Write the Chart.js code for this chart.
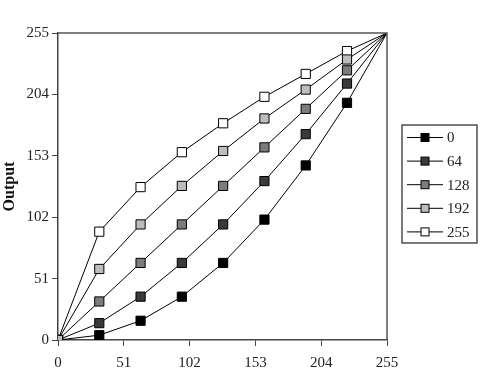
<!DOCTYPE html>
<html>
<head>
<meta charset="utf-8">
<script src="https://cdn.jsdelivr.net/npm/chart.js@4.4.1/dist/chart.umd.min.js"></script>
<style>
  html, body { margin: 0; padding: 0; background: #fff; }
  canvas { display: block; }
</style>
</head>
<body>
<canvas id="grafico" width="492" height="381"></canvas>
<script>
// input levels (x) and output curves, one per legend value
const entradas = [0, 32, 64, 96, 128, 160, 192, 224, 255];
const etiquetas = ['0', '64', '128', '192', '255'];
const salida0   = [0, 4, 16, 36, 64, 100, 145, 197, 255];
const salida64  = [0, 14, 36, 64, 96, 132, 171, 213, 255];
const salida128 = [0, 32, 64, 96, 128, 160, 192, 224, 255];
const salida192 = [0, 59, 96, 128, 157, 184, 208, 233, 255];
const salida255 = [0, 90, 127, 156, 180, 202, 221, 240, 255];
const ticksEje = [0, 51, 102, 153, 204, 255];

const series = [salida0, salida64, salida128, salida192, salida255];
const rellenos = ['#000000', '#3a3a3a', '#7c7c7c', '#bdbdbd', '#ffffff'];
const fuente = "'Liberation Serif', 'Times New Roman', serif";

// top + right frame lines
const marco = {
    id: 'marco',
    afterDraw(chart) {
        const { ctx, chartArea: a } = chart;
        ctx.save();
        ctx.strokeStyle = '#555';
        ctx.lineWidth = 1.5;
        ctx.beginPath();
        ctx.moveTo(a.left, a.top);
        ctx.lineTo(a.right, a.top);
        ctx.lineTo(a.right, a.bottom);
        ctx.stroke();
        ctx.restore();
    }
};

// boxed legend with line + square marker
const leyenda = {
    id: 'leyenda',
    afterDraw(chart) {
        const ctx = chart.ctx;
        const x0 = 402, y0 = 125, w = 75, h = 118;
        ctx.save();
        ctx.strokeStyle = '#222';
        ctx.lineWidth = 1.2;
        ctx.strokeRect(x0, y0, w, h);
        ctx.font = '15px ' + fuente;
        ctx.textBaseline = 'middle';
        chart.data.datasets.forEach((ds, i) => {
            const y = y0 + 12.5 + i * 23.6;
            ctx.strokeStyle = '#000';
            ctx.lineWidth = 1;
            ctx.beginPath();
            ctx.moveTo(407, y);
            ctx.lineTo(443, y);
            ctx.stroke();
            ctx.fillStyle = ds.pointBackgroundColor;
            ctx.fillRect(421, y - 4, 8, 8);
            ctx.strokeRect(421, y - 4, 8, 8);
            ctx.fillStyle = '#222';
            ctx.fillText(ds.label, 447, y + 1);
        });
        ctx.restore();
    }
};

const ultimo = entradas.length - 1;

new Chart(document.getElementById('grafico').getContext('2d'), {
    type: 'line',
    data: {
        datasets: series.map((vals, i) => ({
            label: etiquetas[i],
            data: entradas.map((x, j) => ({ x: x, y: vals[j] })),
            borderColor: '#000',
            borderWidth: 1,
            tension: 0,
            fill: false,
            pointStyle: 'rect',
            pointBackgroundColor: rellenos[i],
            pointBorderColor: '#000',
            pointBorderWidth: 1,
            pointRadius: (c) => c.dataIndex === ultimo ? 0 : 6.5,
            order: i === 3 ? -1 : 0
        }))
    },
    options: {
        responsive: false,
        animation: false,
        layout: { padding: { top: 33, right: 105, left: 0, bottom: 0 } },
        plugins: {
            legend: { display: false },
            tooltip: { enabled: false }
        },
        scales: {
            x: {
                type: 'linear',
                min: 0,
                max: 255,
                afterBuildTicks: (s) => { s.ticks = ticksEje.map(v => ({ value: v })); },
                afterFit: (s) => { s.height = 41; },
                grid: { drawOnChartArea: false, drawTicks: true, tickLength: 6, color: '#444' },
                border: { display: true, color: '#444', width: 1.5 },
                ticks: { font: { family: fuente, size: 15 }, color: '#222', padding: 8, maxRotation: 0 }
            },
            y: {
                type: 'linear',
                min: 0,
                max: 255,
                afterBuildTicks: (s) => { s.ticks = ticksEje.map(v => ({ value: v })); },
                afterFit: (s) => { s.width = 58; },
                grid: { drawOnChartArea: false, drawTicks: true, tickLength: 6, color: '#444' },
                border: { display: true, color: '#444', width: 1.5 },
                ticks: { font: { family: fuente, size: 15 }, color: '#222', padding: 3 },
                title: {
                    display: true,
                    text: 'Output',
                    font: { family: fuente, size: 16, weight: 'bold' },
                    color: '#111',
                    padding: { top: 0, bottom: 0 }
                }
            }
        }
    },
    plugins: [marco, leyenda]
});
</script>
</body>
</html>
